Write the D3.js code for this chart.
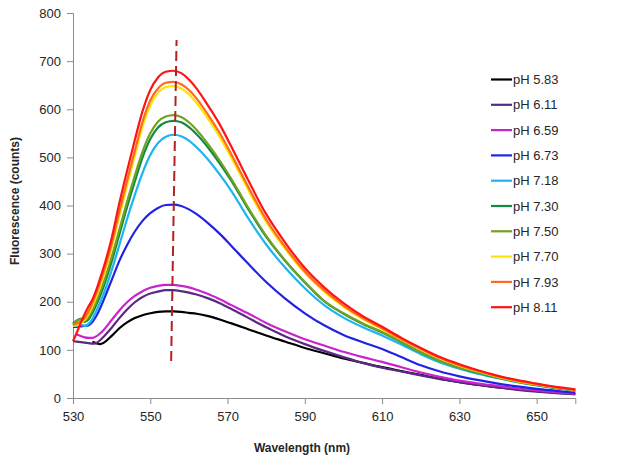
<!DOCTYPE html>
<html>
<head>
<meta charset="utf-8">
<script src="https://cdn.jsdelivr.net/npm/d3@7"></script>
<style>
  html, body { margin: 0; padding: 0; background: #fff; }
  svg { display: block; font-family: "Liberation Sans", Arial, sans-serif; }
</style>
</head>
<body>
<svg id="chart" width="624" height="462"></svg>
<script>
// ---- data ----
const wavelengths = [530,531,532,533,534,535,536,537,538,540,542,544,546,548,550,552,554,556,558,560,562,565,568,571,575,580,585,590,595,600,605,610,615,620,625,630,635,640,645,650,655,660];

const seriesNames = ["pH 5.83","pH 6.11","pH 6.59","pH 6.73","pH 7.18","pH 7.30","pH 7.50","pH 7.70","pH 7.93","pH 8.11"];
const seriesColors = ["#000000","#5A2A82","#CC22CC","#2222E6","#1EB4EE","#128A42","#72A224","#FFE400","#FF6A1E","#FF1414"];

const pH583 = [null,null,null,null,null,117,114,112,115,129,145,157,166,172,176,179,180,180,179,177,175,170,163,155,144,130,117,104,93,82,73,64,56,48,40,33,27,22,18,14,11,8];
const pH611 = [118,117,116,115,114,113,114,120,128,146,166,184,199,210,217,221,224,224,222,219,215,207,197,185,168,147,128,112,98,85,73,63,55,47,39,33,27,22,17,13,10,8];
const pH659 = [null,132,129,126,125,125,128,134,142,162,182,199,212,222,229,233,235,235,233,230,225,216,205,193,177,156,138,122,109,96,85,75,64,53,44,36,30,25,20,16,12,9];
const pH673 = [148,148,149,150,151,158,170,186,205,245,285,318,346,368,384,395,401,402,399,392,382,363,341,316,282,241,206,176,151,131,116,102,85,68,55,45,37,30,24,19,15,11];
const pH718 = [150,150,152,150,154,164,180,198,218,265,318,372,422,468,505,530,543,547,544,535,521,495,464,430,378,319,270,228,193,167,147,130,111,91,74,61,50,41,33,26,20,15];
const pH730 = [155,161,165,158,163,176,193,212,233,283,340,397,450,500,538,562,573,576,573,563,548,520,487,451,397,335,284,240,201,175,154,136,116,95,77,63,52,42,34,27,21,16];
const pH750 = [152,160,164,161,168,183,200,220,242,293,350,408,462,512,550,574,585,588,584,573,557,527,493,455,400,337,285,241,202,176,155,137,117,95,77,63,53,43,34,27,21,16];
const pH770 = [150,152,156,162,174,190,210,232,256,312,378,442,504,564,608,634,646,648,643,631,613,580,542,499,438,366,309,260,221,190,164,143,121,101,82,67,55,44,35,28,22,17];
const pH793 = [152,155,159,166,180,197,217,240,264,320,388,452,514,574,618,643,655,657,652,640,622,588,550,506,444,371,313,263,224,192,166,145,122,102,83,68,56,45,36,29,22,17];
const pH811 = [118,136,156,174,190,204,224,248,273,332,405,472,536,596,640,666,678,680,675,662,643,607,568,522,458,382,322,270,230,197,170,148,125,104,85,70,57,46,37,30,23,18];

const seriesValues = [pH583,pH611,pH659,pH673,pH718,pH730,pH750,pH770,pH793,pH811];

const peakLineX = [555.4, 556.8];
const peakLineY = [77, 744];

const xTicks = [530,550,570,590,610,630,650];
const yTicks = [0,100,200,300,400,500,600,700,800];
const xTitle = "Wavelength (nm)";
const yTitle = "Fluorescence (counts)";

// ---- layout ----
const svg = d3.select("#chart");
const plotLeft = 73, plotRight = 575.3, plotTop = 13, plotBottom = 398;
const x = d3.scaleLinear().domain([530, 660]).range([plotLeft, plotRight]);
const y = d3.scaleLinear().domain([0, 800]).range([plotBottom, plotTop]);
const axisColor = "#8c8c8c";
const textColor = "#262626";

// y axis
const yAxis = svg.append("g").attr("transform", `translate(${plotLeft},0)`)
  .call(d3.axisLeft(y).tickValues(yTicks).tickSize(6).tickPadding(6).tickFormat(d3.format("d")));
yAxis.select(".domain").attr("stroke", axisColor);
yAxis.selectAll(".tick line").attr("stroke", axisColor);
yAxis.selectAll("text").attr("fill", textColor).style("font-size", "13px").style("font-family", "Liberation Sans, Arial, sans-serif");

// x axis
const xAxis = svg.append("g").attr("transform", `translate(0,${plotBottom})`)
  .call(d3.axisBottom(x).tickValues(xTicks).tickSize(6).tickPadding(8).tickFormat(d3.format("d")));
xAxis.select(".domain").attr("stroke", axisColor);
xAxis.selectAll(".tick line").attr("stroke", axisColor);
xAxis.selectAll("text").attr("fill", textColor).style("font-size", "13px").style("font-family", "Liberation Sans, Arial, sans-serif");

// titles
svg.append("text").attr("x", 302).attr("y", 452).attr("text-anchor", "middle")
  .attr("fill", textColor).style("font-size", "12px").style("font-weight", "bold").text(xTitle);
svg.append("text").attr("transform", "translate(19,201) rotate(-90)").attr("text-anchor", "middle")
  .attr("fill", textColor).style("font-size", "12px").style("font-weight", "bold").text(yTitle);

// lines
const line = d3.line()
  .defined(d => d[1] != null)
  .x(d => x(d[0])).y(d => y(d[1]))
  .curve(d3.curveMonotoneX);

seriesValues.forEach((vals, i) => {
  const pts = wavelengths.map((w, j) => [w, vals[j]]);
  svg.append("path").datum(pts)
    .attr("d", line)
    .attr("fill", "none")
    .attr("stroke", seriesColors[i])
    .attr("stroke-width", 2.2)
    .attr("stroke-linejoin", "round");
});

// dashed peak line
svg.append("line")
  .attr("x1", x(peakLineX[0])).attr("y1", y(peakLineY[0]))
  .attr("x2", x(peakLineX[1])).attr("y2", y(peakLineY[1]))
  .attr("stroke", "#B22222").attr("stroke-width", 2)
  .attr("stroke-dasharray", "10,5");

// legend
const legend = svg.append("g");
seriesNames.forEach((name, i) => {
  const yy = 79.5 + i * 25.3;
  legend.append("line").attr("x1", 491).attr("x2", 512).attr("y1", yy).attr("y2", yy)
    .attr("stroke", seriesColors[i]).attr("stroke-width", 2.2);
  legend.append("text").attr("x", 513).attr("y", yy + 4.6)
    .attr("fill", textColor).style("font-size", "13px").text(name);
});
</script>
</body>
</html>
